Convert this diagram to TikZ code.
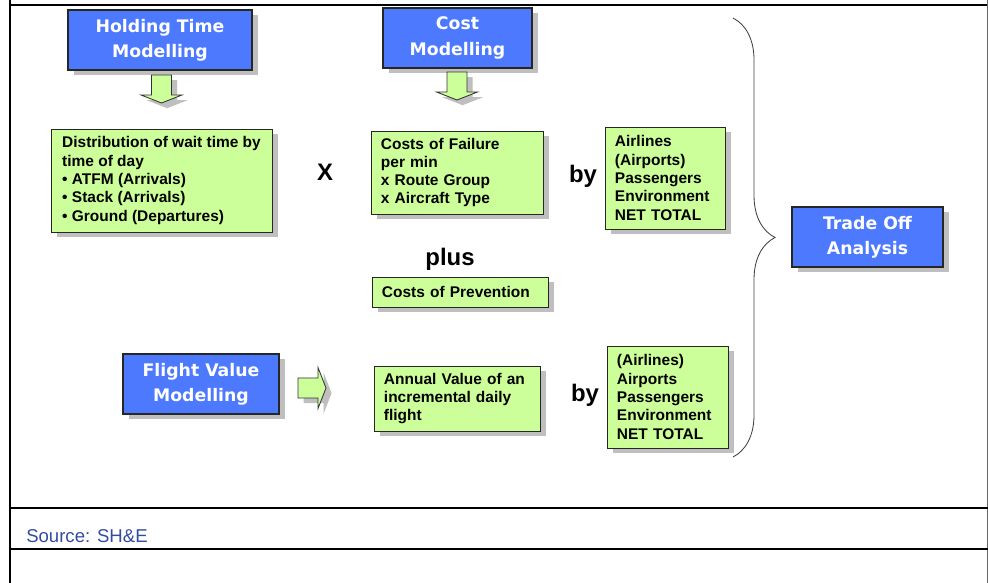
\documentclass[tikz,border=0pt]{standalone}
\usepackage{fontspec}
\setmainfont{Liberation Sans}
\newfontfamily\headfont{DejaVu Sans}
\usetikzlibrary{shadows,decorations.pathreplacing}

\definecolor{modelblue}{RGB}{77,121,255}
\definecolor{notegreen}{RGB}{204,255,153}
\definecolor{sourceblue}{RGB}{51,76,160}

\tikzset{
	boxshadow/.style={drop shadow={shadow xshift=0.14cm, shadow yshift=-0.13cm, fill=black!25, opacity=1}},
	modelbox/.style={draw=black!85, line width=0.8pt, fill=modelblue, boxshadow, text=white, align=center,
		font=\headfont\bfseries\fontsize{12.3}{18}\selectfont, minimum height=1.5cm, inner sep=0pt},
	notebox/.style={draw=black!85, line width=0.6pt, fill=notegreen, boxshadow, align=left,
		font=\bfseries\fontsize{11}{13}\selectfont, inner xsep=0.25cm, inner ysep=0pt},
	arrowfill/.style={draw=black!80, line width=0.6pt, fill=notegreen, line join=miter, boxshadow},
	fatarrow/.pic={
		\draw [arrowfill] (0, -10) -- (20, -10) -- (20, -20.5) -- (28, 0) -- (20, 20.5) -- (20, 10) -- (0, 10) -- cycle;
	},
	bigword/.style={font=\bfseries\fontsize{17}{20}\selectfont, inner sep=0pt},
}

\begin{document}
\begin{tikzpicture}[x=0.025cm, y=-0.025cm]
	\useasboundingbox (0, 0) rectangle (988, 583);

	\draw [line width=1.5pt] (10, 0) -- (10, 583);
	\draw [line width=1.8pt] (10, 5) -- (988, 5);
	\draw [black!60, line width=0.6pt] (987, 0) -- (987, 583);
	\draw [line width=1.4pt] (10, 508) -- (988, 508);
	\draw [line width=1.4pt] (10, 549) -- (988, 549);
	\node [anchor=west, inner sep=0pt, text=sourceblue, font=\fontsize{13.2}{15}\selectfont] at (26, 536) (source) {Source: SH\&E};

	\node [modelbox, minimum width=4.6cm] at (160, 40) (holding) {Holding Time\\Modelling};
	\node [modelbox, minimum width=3.725cm] at (457.5, 38) (cost) {Cost\\Modelling};
	\node [modelbox, minimum width=3.775cm] at (867.5, 237) (tradeoff) {Trade Off\\Analysis};
	\node [modelbox, minimum width=3.9cm] at (201, 384) (flightvalue) {Flight Value\\Modelling};

	\pic [rotate=-90] at (161.5, 75) {fatarrow};
	\pic [rotate=-90] at (457, 72) {fatarrow};
	\pic at (298, 388) {fatarrow};

	\node [notebox, minimum width=5.525cm, minimum height=2.575cm] at (161.5, 180.5) (waittime) {Distribution of wait time by\\time of day\\\textbullet\ ATFM (Arrivals)\\\textbullet\ Stack (Arrivals)\\\textbullet\ Ground (Departures)};
	\node [notebox, text width=3.8cm, minimum height=2.075cm] at (457, 172.5) (failure) {Costs of Failure\\per min\\x Route Group\\x Aircraft Type};
	\node [notebox, text width=2.5cm, minimum height=2.55cm] at (665, 178) (partiesup) {Airlines\\(Airports)\\Passengers\\Environment\\NET TOTAL};
	\node [notebox, text width=3.9cm, minimum height=0.75cm] at (460, 292) (prevention) {Costs of Prevention};
	\node [notebox, text width=3.65cm, minimum height=1.625cm] at (457, 398.5) (annualvalue) {Annual Value of an\\incremental daily\\flight};
	\node [notebox, text width=2.525cm, minimum height=2.55cm] at (667.5, 397) (partieslow) {(Airlines)\\Airports\\Passengers\\Environment\\NET TOTAL};

	\node [bigword] at (325, 172) (times) {X};
	\node [bigword] at (583, 176) (byup) {by};
	\node [bigword] at (450, 259) (plus) {plus};
	\node [bigword] at (585, 395) (bylow) {by};

	\coordinate (bracetop) at (733, 18);
	\coordinate (bracebot) at (733, 457);
	\draw [black!75, line width=0.6pt, decorate, decoration={brace, amplitude=1.05cm}] (bracetop) -- (bracebot);
\end{tikzpicture}
\end{document}
